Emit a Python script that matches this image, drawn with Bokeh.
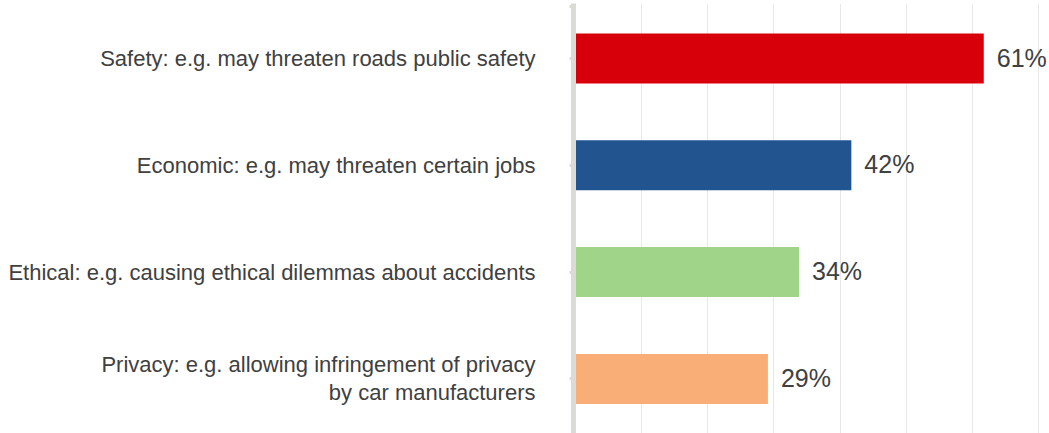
from bokeh.plotting import figure
from bokeh.models import Range1d, FixedTicker, SingleIntervalTicker
from bokeh.core.properties import value
from bokeh.embed import file_html
from bokeh.resources import INLINE

categories = [
    "Safety: e.g. may threaten roads public safety",
    "Economic: e.g. may threaten certain jobs",
    "Ethical: e.g. causing ethical dilemmas about accidents",
    "Privacy: e.g. allowing infringement of privacy\nby car manufacturers",
]
values = [61.7, 41.7, 33.8, 29.1]
value_labels = ["61%", "42%", "34%", "29%"]
colors = ["#d7000a", "#22558f", "#a0d489", "#f9ae78"]

idx = list(range(len(categories)))

FONT = "Liberation Sans"
TEXT_COLOR = "#404040"
AXIS_COLOR = "#dcdad6"

p = figure(
    width=1049, height=433,
    output_backend="svg", toolbar_location=None,
    x_range=Range1d(-0.27, 71.63),
    y_range=Range1d(3.511, -0.515),
    min_border_left=573, min_border_right=0, min_border_top=3, min_border_bottom=0,
)
p.outline_line_color = None
p.background_fill_color = "white"
p.border_fill_color = "white"

p.hbar(y=idx, right=values, left=0, height=0.468, color=colors, line_color=None)

p.text(x=values, y=idx, text=value_labels, x_offset=13, y_offset=-1,
       text_baseline="middle", text_align="left",
       text_font=value(FONT), text_font_size="25px", text_color=TEXT_COLOR)

# x axis hidden, vertical grid every 10%
p.xaxis.visible = False
p.xgrid.ticker = SingleIntervalTicker(interval=10)
p.xgrid.grid_line_color = "#e8e8e8"
p.xgrid.grid_line_width = 1
p.ygrid.visible = False

ya = p.yaxis[0]
ya.ticker = FixedTicker(ticks=[-0.49] + idx)
ya.major_label_overrides = {**{-0.49: ""}, **{i: c for i, c in enumerate(categories)}}
ya.axis_line_color = AXIS_COLOR
ya.axis_line_width = 5
ya.major_tick_line_color = AXIS_COLOR
ya.major_tick_line_width = 3
ya.major_tick_out = 4
ya.major_tick_in = 0
ya.minor_tick_line_color = None
ya.major_label_standoff = 34
ya.major_label_text_font = FONT
ya.major_label_text_font_size = "22px"
ya.major_label_text_color = TEXT_COLOR
ya.major_label_text_line_height = 1.12

open("out.html", "w").write(file_html(p, INLINE))
